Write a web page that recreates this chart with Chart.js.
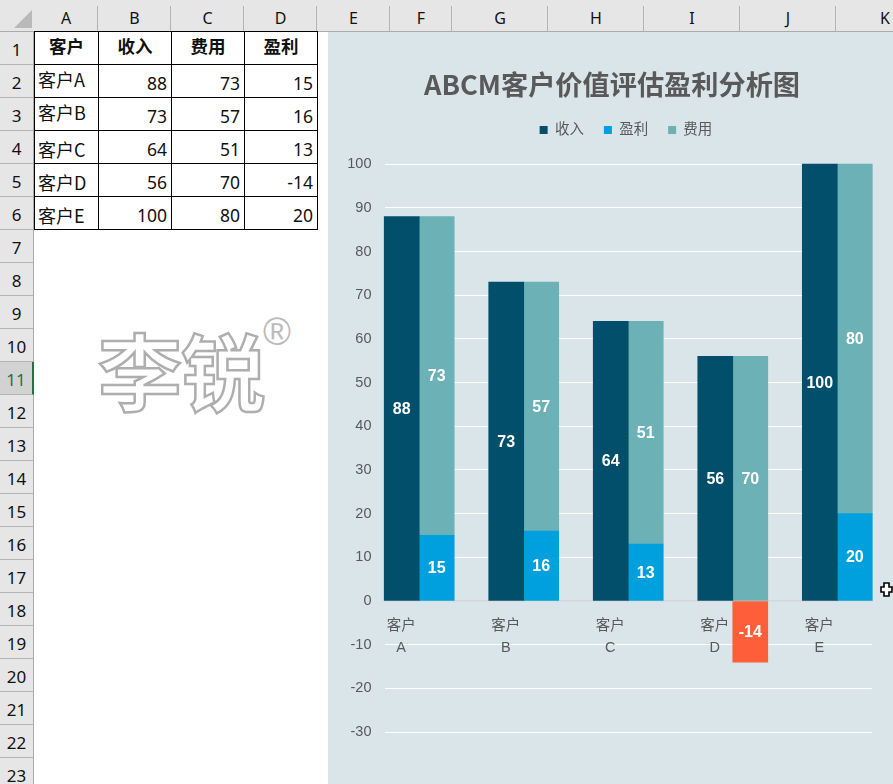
<!DOCTYPE html>
<html>
<head>
<meta charset="utf-8">
<script src="https://cdn.jsdelivr.net/npm/chart.js@4/dist/chart.umd.js"></script>
<style>
html,body{margin:0;padding:0;background:#fff;}
#page{position:relative;width:893px;height:784px;overflow:hidden;font-family:"Noto Sans","Noto Sans CJK SC",sans-serif;color:#111;}
.hd{position:absolute;background:#e6e6e6;box-sizing:border-box;text-align:center;font-size:16px;}
.col{top:0;height:32px;line-height:36px;border-bottom:1px solid #ababab;}
.col i{position:absolute;right:0;top:6px;bottom:0;border-right:1px solid #b4b4b4;}
.row{left:0;width:34px;height:33px;line-height:35px;border-bottom:1px solid #b4b4b4;border-right:1px solid #ababab;font-size:17px;}
.row.sel{background:#d2d2d2;color:#217346;border-right:2px solid #217346;}
#corner{position:absolute;left:14px;top:10px;width:0;height:0;border-style:solid;border-width:0 0 18px 18px;border-color:transparent transparent #b9b9b9 transparent;}
table{position:absolute;left:34px;top:31px;border-collapse:collapse;table-layout:fixed;}
td{border:1px solid #000;height:33px;padding:0 4px 0 0;box-sizing:border-box;font-size:17.5px;line-height:22px;text-align:right;white-space:nowrap;overflow:hidden;}
td.h{font-weight:700;text-align:center;font-family:"Noto Sans CJK SC";font-size:17.5px;padding:0 0 4px 0;}
td.n{text-align:left;font-family:"Noto Sans CJK SC";font-size:18px;padding:0 0 0 3px;}
tr:nth-child(2) td.n{padding-bottom:4px;}
tr:nth-child(3) td.n{padding-bottom:4px;}
tr:nth-child(4) td.n,tr:nth-child(5) td.n,tr:nth-child(6) td.n{padding-top:3px;}
td.v{padding-top:3px;}
#wm{position:absolute;left:98px;top:309px;font-family:"Noto Sans CJK SC";font-weight:700;font-size:84px;line-height:120px;letter-spacing:-1px;color:#fff;-webkit-text-stroke:2.5px #aeaeae;white-space:nowrap;}
#wm2{position:absolute;left:263px;top:310px;font-family:"Liberation Sans";font-size:38px;line-height:44px;color:#bbbbbb;}
#box{position:absolute;left:328px;top:32px;width:565px;height:752px;background:#dae5e9;}
#cur{position:absolute;left:880px;top:582px;}
</style>
</head>
<body>
<div id="page">
  <div id="sheetHead"></div>
  <div id="corner"></div>
  <table id="tbl"></table>
  <div id="wm">李锐</div>
  <div id="wm2">®</div>
  <div id="box"><canvas id="myChart" width="565" height="752"></canvas></div>
  <svg id="cur" width="13" height="15" viewBox="0 0 13 15"><path d="M4 1h5v4h3v5H9v4H4v-4H1V5h3z" fill="#fff" stroke="#000" stroke-width="1.6"/></svg>
</div>
<script>
// data
var categories = ['客户A', '客户B', '客户C', '客户D', '客户E'];
var revenue = [88, 73, 64, 56, 100];
var cost = [73, 57, 51, 70, 80];
var profit = [15, 16, 13, -14, 20];
// 客户D: the cost bar only reaches the revenue height, its label still says 70
var costBar = [73, 57, 51, 56, 80];
var yTicks = [100, 90, 80, 70, 60, 50, 40, 30, 20, 10, 0, -10, -20, -30];
var headers = ['客户', '收入', '费用', '盈利'];
var colNames = ['A', 'B', 'C', 'D', 'E', 'F', 'G', 'H', 'I', 'J', 'K'];
var colEdges = [34, 98, 171, 244, 317, 390, 452, 548, 644, 740, 836, 934];

var dark = '#024f6b', blue = '#009fdd', teal = '#6bb1b6', orange = '#ff5e3a', grey = '#595959';
var fontFamily = '"Liberation Sans","Noto Sans CJK SC",sans-serif';

// spreadsheet chrome
var head = document.getElementById('sheetHead');
var html = '<div class="hd col" style="left:0;width:34px"></div>';
for (var c = 0; c < colNames.length; c++) {
  html += '<div class="hd col" style="left:' + colEdges[c] + 'px;width:' + (colEdges[c + 1] - colEdges[c]) + 'px">' + colNames[c] + '<i></i></div>';
}
for (var r = 1; r <= 23; r++) {
  html += '<div class="hd row' + (r == 11 ? ' sel' : '') + '" style="top:' + (32 + (r - 1) * 33) + 'px">' + r + '</div>';
}
head.innerHTML = html;

var t = '<colgroup>';
for (c = 0; c < 4; c++) t += '<col style="width:' + (colEdges[c + 1] - colEdges[c]) + 'px">';
t += '</colgroup><tr style="height:33px">';
headers.forEach(function (h) { t += '<td class="h">' + h + '</td>'; });
t += '</tr>';
categories.forEach(function (name, i) {
  t += '<tr style="height:33px"><td class="n">' + name + '</td><td class="v">' + revenue[i] + '</td><td class="v">' + cost[i] + '</td><td class="v">' + profit[i] + '</td></tr>';
});
document.getElementById('tbl').innerHTML = t;

// value labels in the middle of each bar
var barLabels = {
  id: 'barLabels',
  afterDatasetsDraw: function (chart) {
    var ctx = chart.ctx;
    ctx.save();
    ctx.font = 'bold 16px ' + fontFamily;
    ctx.fillStyle = '#fff';
    ctx.textAlign = 'center';
    ctx.textBaseline = 'middle';
    chart.data.datasets.forEach(function (ds, d) {
      chart.getDatasetMeta(d).data.forEach(function (bar, i) {
        ctx.fillText(ds.shownValues[i], bar.x, (bar.y + bar.base) / 2 + 1);
      });
    });
    ctx.restore();
  }
};

// title centres on the whole chart, legend over the plot and nearer the title
var boxShift = {
  id: 'boxShift',
  afterLayout: function (chart) {
    chart.titleBlock.left += 12;
    chart.titleBlock.right += 12;
    chart.legend.left += 26;
    chart.legend.right += 26;
    chart.legend.top -= 17;
    chart.legend.bottom -= 17;
  }
};

function points(values) {
  return values.map(function (v, i) { return { x: i, y: v }; });
}

var ctx = document.getElementById('myChart').getContext('2d');
var myChart = new Chart(ctx, {
  type: 'bar',
  plugins: [barLabels, boxShift],
  data: {
    datasets: [{
      label: '收入',
      data: points(revenue),
      shownValues: revenue,
      stack: 'a',
      backgroundColor: dark,
      barThickness: 35,
      clip: false
    }, {
      label: '盈利',
      data: points(profit),
      shownValues: profit,
      stack: 'b',
      backgroundColor: profit.map(function (v) { return v < 0 ? orange : blue; }),
      barThickness: 35,
      clip: false
    }, {
      label: '费用',
      data: points(costBar),
      shownValues: cost,
      stack: 'b',
      backgroundColor: teal,
      barThickness: 35,
      clip: false
    }]
  },
  options: {
    responsive: false,
    animation: false,
    layout: { padding: { left: 0, right: 21, top: 0, bottom: 52 } },
    plugins: {
      tooltip: { enabled: false },
      title: {
        display: true,
        text: 'ABCM客户价值评估盈利分析图',
        color: grey,
        font: { family: '"Noto Sans CJK SC",sans-serif', size: 27.2, weight: 'bold', lineHeight: 1.2 },
        padding: { top: 36, bottom: 19 }
      },
      legend: {
        display: true,
        position: 'top',
        labels: {
          color: grey,
          boxWidth: 8,
          boxHeight: 8,
          padding: 20,
          font: { family: fontFamily, size: 14.5 },
          generateLabels: function (chart) {
            return chart.data.datasets.map(function (ds, i) {
              return { text: ds.label, fillStyle: [dark, blue, teal][i], strokeStyle: 'transparent', lineWidth: 0, datasetIndex: i, fontColor: grey };
            });
          }
        }
      }
    },
    scales: {
      x: {
        type: 'linear',
        offset: false,
        min: -0.332,
        max: 4.332,
        position: { y: 0 },
        grid: { display: false, offset: false, drawTicks: false },
        border: { display: true, color: '#d6d6d6', width: 1.5 },
        afterBuildTicks: function (scale) {
          scale.ticks = categories.map(function (name, i) { return { value: i }; });
        },
        ticks: {
          autoSkip: false,
          maxRotation: 0,
          padding: 14,
          labelOffset: -18,
          color: grey,
          font: { family: fontFamily, size: 14.5, lineHeight: 1.5 },
          callback: function (value) {
            var name = categories[value];
            return [name.slice(0, 2), name.slice(2)];
          }
        }
      },
      y: {
        stacked: true,
        min: -30,
        max: 100,
        afterFit: function (scale) { scale.width = 56.5; },
        afterBuildTicks: function (scale) {
          scale.ticks = yTicks.map(function (v) { return { value: v }; });
        },
        grid: {
          drawTicks: false,
          color: function (c) { return c.tick.value === 0 ? 'transparent' : '#ffffff'; },
          lineWidth: 1
        },
        border: { display: false },
        ticks: {
          padding: 13,
          color: grey,
          font: { family: fontFamily, size: 14.5 }
        }
      }
    }
  }
});
</script>
</body>
</html>
